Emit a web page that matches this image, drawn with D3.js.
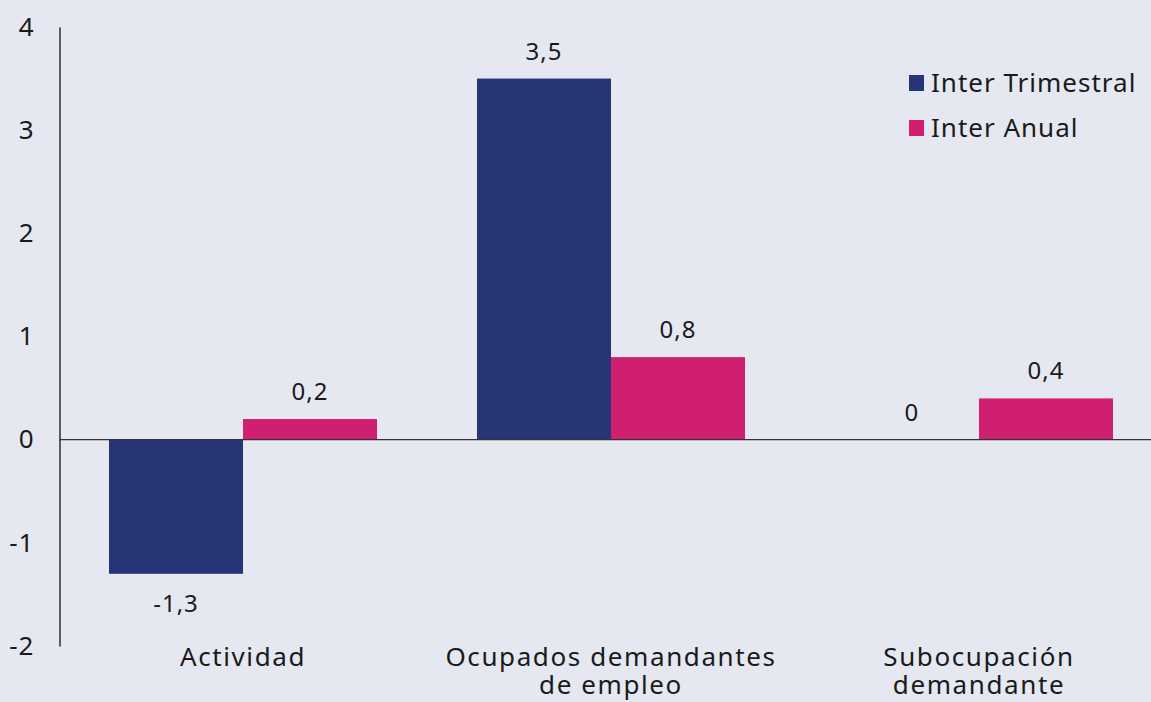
<!DOCTYPE html>
<html>
<head>
<meta charset="utf-8">
<script src="https://cdn.jsdelivr.net/npm/d3@7"></script>
<style>
  html, body { margin: 0; padding: 0; background: #e5e8f0; }
  .vis { width: 1151px; height: 702px; }
  text { font-family: "Noto Sans", sans-serif; fill: #1a1a1a; }
</style>
</head>
<body>
<div class="vis"></div>
<script>
(function() {
  'use strict';

  var categories = [["Actividad"], ["Ocupados demandantes", "de empleo"], ["Subocupación", "demandante"]];
  var series = ["Inter Trimestral", "Inter Anual"];
  var interTrimestral = [-1.3, 3.5, 0];
  var interAnual = [0.2, 0.8, 0.4];
  var yTicks = [-2, -1, 0, 1, 2, 3, 4];
  var colors = ["#263576", "#d01f70"];

  var elWidth = 1151, elHeight = 702,
    bigFont = 26, smallFont = 24;

  var svg = d3.select('.vis').append('svg')
      .attr('width', elWidth)
      .attr('height', elHeight);

  var keys = categories.map(function(c) { return c.join(' '); });

  var x = d3.scaleBand()
      .domain(keys)
      .range([59, 1163])
      .paddingInner(0.2717)
      .paddingOuter(0.1359);

  var x1 = d3.scaleBand()
      .domain(series)
      .range([0, x.bandwidth()]);

  var y = d3.scaleLinear()
      .domain([-2, 4])
      .range([646, 27]);

  var fmt = function(v) { return String(v).replace('.', ','); };

  var data = keys.map(function(k, i) {
    return {key: k, values: [interTrimestral[i], interAnual[i]]};
  });

  // y axis
  var yAxis = svg.append('g')
      .attr('transform', 'translate(59.5,0)')
      .call(d3.axisLeft(y).tickValues(yTicks).tickSize(0).tickPadding(25)
        .tickFormat(function(d) { return d; }));
  yAxis.select('.domain').attr('stroke', '#111').attr('stroke-width', 1.3);
  yAxis.selectAll('.tick text')
      .attr('font-size', bigFont)
      .attr('font-family', '"Noto Sans", sans-serif')
      .attr('letter-spacing', 1)
      .attr('fill', '#1a1a1a');

  // bars
  var groups = svg.selectAll('.grp')
      .data(data)
      .enter().append('g')
      .attr('class', 'grp')
      .attr('transform', function(d) { return 'translate(' + x(d.key) + ',0)'; });

  groups.selectAll('rect')
      .data(function(d) { return d.values.map(function(v, j) { return {s: series[j], v: v, j: j}; }); })
      .enter().append('rect')
      .attr('x', function(d) { return x1(d.s); })
      .attr('width', x1.bandwidth())
      .attr('y', function(d) { return y(Math.max(0, d.v)); })
      .attr('height', function(d) { return Math.abs(y(d.v) - y(0)); })
      .attr('fill', function(d) { return colors[d.j]; });

  groups.selectAll('.lbl')
      .data(function(d) { return d.values.map(function(v, j) { return {s: series[j], v: v}; }); })
      .enter().append('text')
      .attr('class', 'lbl')
      .attr('x', function(d) { return x1(d.s) + x1.bandwidth() / 2; })
      .attr('y', function(d) { return d.v < 0 ? y(d.v) + 38 : y(d.v) - 19; })
      .attr('text-anchor', 'middle')
      .attr('font-size', smallFont)
      .attr('letter-spacing', 1)
      .text(function(d) { return fmt(d.v); });

  // zero line
  svg.append('line')
      .attr('x1', 59.5).attr('x2', elWidth)
      .attr('y1', y(0)).attr('y2', y(0))
      .attr('stroke', '#333')
      .attr('stroke-width', 1.3);

  // category labels
  svg.selectAll('.cat')
      .data(categories)
      .enter().append('text')
      .attr('class', 'cat')
      .attr('text-anchor', 'middle')
      .attr('font-size', bigFont)
      .attr('letter-spacing', 1.6)
      .attr('x', function(d) { return x(d.join(' ')) + x.bandwidth() / 2; })
      .attr('y', 666)
      .selectAll('tspan')
      .data(function(d) { return d; })
      .enter().append('tspan')
      .attr('x', function() { return this.parentNode.getAttribute('x'); })
      .attr('dy', function(d, i) { return i === 0 ? 0 : 28; })
      .text(function(d) { return d; });

  // legend
  var legend = svg.selectAll('.leg')
      .data(series)
      .enter().append('g')
      .attr('class', 'leg')
      .attr('transform', function(d, i) { return 'translate(909,' + (75 + i * 45) + ')'; });
  legend.append('rect')
      .attr('width', 15).attr('height', 16)
      .attr('fill', function(d, i) { return colors[i]; });
  legend.append('text')
      .attr('x', 22).attr('y', 17)
      .attr('font-size', bigFont)
      .attr('letter-spacing', 1)
      .text(function(d) { return d; });
}());
</script>
</body>
</html>
